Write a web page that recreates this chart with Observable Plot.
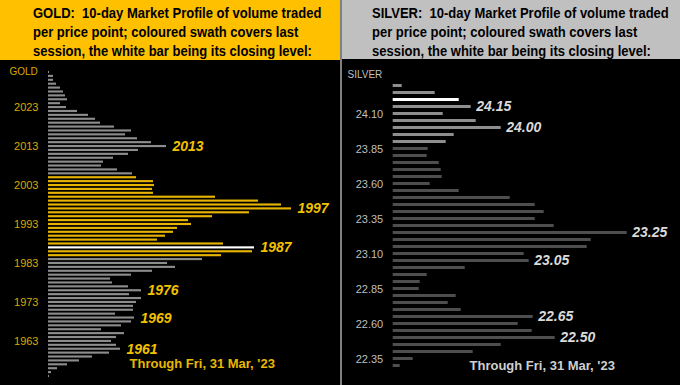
<!DOCTYPE html>
<html><head><meta charset="utf-8">
<script src="https://cdn.jsdelivr.net/npm/d3@7"></script>
<script src="https://cdn.jsdelivr.net/npm/@observablehq/plot@0.6"></script>
<style>
html,body{margin:0;padding:0;background:#000;}
#wrap{position:relative;width:680px;height:385px;display:flex;font-family:"Liberation Sans",Arial,sans-serif;overflow:hidden;background:#000}
.panel{position:relative;height:385px;background:#000}
#gold{width:340px}
#silver{width:338px;border-left:2px solid #808080}
.head{height:59px;box-sizing:border-box;padding-top:3px;font-weight:bold;font-size:15px;line-height:19px;color:#000;white-space:nowrap;overflow:hidden}
.head span{display:block;transform:scaleX(0.867);transform-origin:0 0}
#gold .head{background:#ffc000;padding-left:33px}
#silver .head{background:#c0c0c0;padding-left:30px}
.body{height:326px;box-sizing:border-box}
#gold .body{border-top:1px solid #ffc000}
#silver .body{border-top:1px solid #000}
.body svg{display:block}
</style>
</head><body>
<div id="wrap">
  <div class="panel" id="gold">
    <div class="head"><span>GOLD:&nbsp; 10-day Market Profile of volume traded</span><span>per price point; coloured swath covers last</span><span>session, the white bar being its closing level:</span></div>
    <div class="body" id="goldBody"></div>
  </div>
  <div class="panel" id="silver">
    <div class="head"><span>SILVER:&nbsp; 10-day Market Profile of volume traded</span><span>per price point; coloured swath covers last</span><span>session, the white bar being its closing level:</span></div>
    <div class="body" id="silverBody"></div>
  </div>
</div>
<script>
// ---------- GOLD ----------
const goldPrices = [2032,2031,2030,2029,2028,2027,2026,2025,2024,2023,2022,2021,2020,2019,2018,2017,2016,2015,2014,2013,2012,2011,2010,2009,2008,2007,2006,2005,2004,2003,2002,2001,2000,1999,1998,1997,1996,1995,1994,1993,1992,1991,1990,1989,1988,1987,1986,1985,1984,1983,1982,1981,1980,1979,1978,1977,1976,1975,1974,1973,1972,1971,1970,1969,1968,1967,1966,1965,1964,1963,1962,1961,1960,1959,1958,1957,1956,1955,1954];
const goldVolume = [1,5,5,8,12,15,17,19,12,18,29,40,47,52,66,83,77,89,103,118,90,80,65,55,53,69,84,88,105,106,104,105,167,210,233,243,201,164,140,143,129,125,117,109,175,206,204,173,154,119,127,104,83,62,64,80,93,81,93,88,85,85,67,86,83,73,53,76,68,63,68,72,61,44,31,19,9,3,1];
const goldTicks = [2023,2013,2003,1993,1983,1973,1963];
const goldLabels = [2013,1997,1987,1976,1969,1961];
const goldSwath = [1985, 2005];   // last session's range
const goldClose = 1987;

// ---------- SILVER ----------
const silverPrices = [24.30,24.25,24.20,24.15,24.10,24.05,24.00,23.95,23.90,23.85,23.80,23.75,23.70,23.65,23.60,23.55,23.50,23.45,23.40,23.35,23.30,23.25,23.20,23.15,23.10,23.05,23.00,22.95,22.90,22.85,22.80,22.75,22.70,22.65,22.60,22.55,22.50,22.45,22.40,22.35,22.30];
const silverVolume = [9,42,66,78,50,83,108,61,53,35,34,46,48,49,37,66,117,142,151,142,161,234,198,194,131,136,72,34,27,26,63,55,68,140,125,139,162,108,80,20,7];
const silverTicks = [24.10,23.85,23.60,23.35,23.10,22.85,22.60,22.35];
const silverLabels = [24.15,24.00,23.25,23.05,22.65,22.50];
const silverSwath = [23.90, 24.30];
const silverClose = 24.20;

const footer = "Through Fri, 31 Mar, '23";
const FONT = "Liberation Sans, Arial, sans-serif";

const goldData = goldPrices.map((p, i) => ({p, v: goldVolume[i]}));
const silverData = silverPrices.map((p, i) => ({p, v: silverVolume[i]}));

function goldFill(d) {
  if (d.p === goldClose) return "#ffffff";
  if (d.p >= goldSwath[0] && d.p <= goldSwath[1]) return "#e6b400";
  return "#8c8c8c";
}
function silverFill(d) {
  if (d.p === silverClose) return "#ffffff";
  if (d.p >= silverSwath[0] - 1e-9 && d.p <= silverSwath[1] + 1e-9) return "#8e8e8e";
  return "#4e4e4e";
}

const goldPlot = Plot.plot({
  width: 340, height: 325,
  marginLeft: 48, marginRight: 49, marginTop: 10.05, marginBottom: 7.05,
  style: {background: "#000", color: "#d9a900", fontFamily: FONT, fontSize: "11px"},
  color: {type: "identity"},
  x: {domain: [0, 243], axis: null},
  y: {type: "band", domain: goldPrices, paddingInner: 0.45, paddingOuter: 0.225, align: 0.5,
      label: null, tickSize: 0, tickPadding: 10, ticks: goldTicks, tickFormat: d => String(d)},
  marks: [
    Plot.barX(goldData, {x: "v", y: "p", fill: goldFill}),
    Plot.text(goldData.filter(d => goldLabels.includes(d.p)), {
      x: "v", y: "p", text: d => String(d.p), dx: 6, textAnchor: "start",
      fill: "#f2c200", fontWeight: "bold", fontStyle: "italic", fontSize: 14
    }),
    Plot.text(["GOLD"], {frameAnchor: "top-left", text: d => d, textAnchor: "start",
      dx: -39, dy: -2.7, fill: "#d9a900", fontSize: 10}),
    Plot.text([footer], {frameAnchor: "bottom-left", text: d => d, textAnchor: "start",
      dx: 81, dy: -10, fill: "#e8b800", fontWeight: "bold", fontSize: 13})
  ]
});
document.getElementById("goldBody").appendChild(goldPlot);

const silverPlot = Plot.plot({
  width: 338, height: 325,
  marginLeft: 50.7, marginRight: 53.3, marginTop: 13, marginBottom: 7,
  style: {background: "#000", color: "#bfbfbf", fontFamily: FONT, fontSize: "11px"},
  color: {type: "identity"},
  x: {domain: [0, 234], axis: null},
  y: {type: "band", domain: silverPrices, paddingInner: 0.62, paddingOuter: 0.31, align: 0.5,
      label: null, tickSize: 0, tickPadding: 10, ticks: silverTicks, tickFormat: d3.format(".2f")},
  marks: [
    Plot.barX(silverData, {x: "v", y: "p", fill: silverFill}),
    Plot.text(silverData.filter(d => silverLabels.includes(d.p)), {
      x: "v", y: "p", text: d => d3.format(".2f")(d.p), dx: 5, textAnchor: "start",
      fill: "#dadada", fontWeight: "bold", fontStyle: "italic", fontSize: 14
    }),
    Plot.text(["SILVER"], {frameAnchor: "top-left", text: d => d, textAnchor: "start",
      dx: -45.7, dy: -3, fill: "#bfbfbf", fontSize: 10}),
    Plot.text([footer], {frameAnchor: "bottom-left", text: d => d, textAnchor: "start",
      dx: 76.3, dy: -9, fill: "#cfcfcf", fontWeight: "bold", fontSize: 13})
  ]
});
document.getElementById("silverBody").appendChild(silverPlot);
</script>
</body></html>
